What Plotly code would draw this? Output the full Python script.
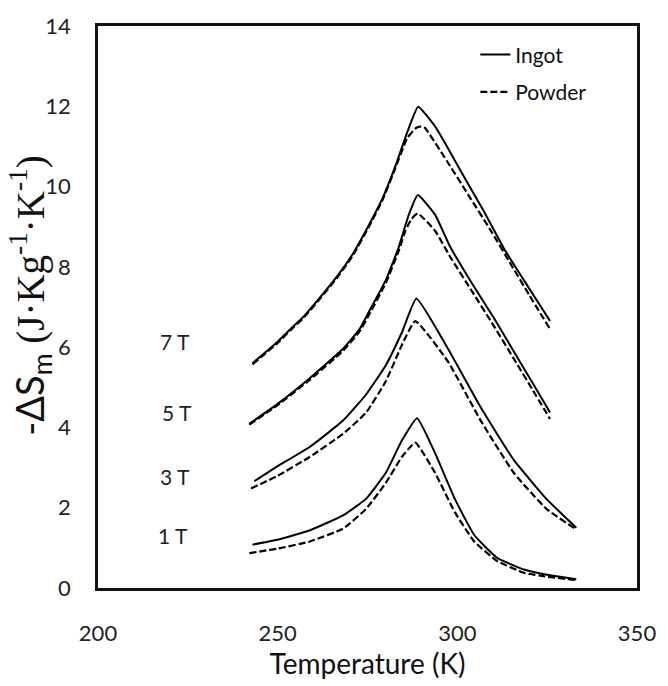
import plotly.graph_objects as go

# ---- data ----
t7_ingot = [243.0, 249.9, 254.0, 257.2, 261.8, 266.4, 270.9, 275.5, 279.2, 282.8, 286.0, 289.1, 293.8, 297.0, 301.5, 307.3, 313.0, 319.0, 325.8]
s7_ingot = [5.60, 6.13, 6.49, 6.76, 7.24, 7.75, 8.32, 9.06, 9.71, 10.52, 11.34, 11.99, 11.50, 11.02, 10.30, 9.40, 8.45, 7.60, 6.65]
t7_powder = [243.0, 249.9, 254.0, 257.2, 261.8, 266.4, 270.9, 275.5, 279.2, 282.8, 286.0, 288.5, 290.0, 291.0, 297.0, 303.0, 309.0, 315.0, 320.0, 325.8]
s7_powder = [5.57, 6.10, 6.46, 6.73, 7.21, 7.71, 8.28, 9.02, 9.67, 10.47, 11.20, 11.46, 11.50, 11.46, 10.65, 9.80, 8.95, 8.05, 7.30, 6.45]

t5_ingot = [242.1, 249.9, 259.0, 268.2, 272.8, 275.5, 280.1, 283.7, 286.5, 289.0, 293.8, 298.0, 304.0, 310.0, 316.0, 321.0, 325.8]
s5_ingot = [4.09, 4.58, 5.23, 5.96, 6.45, 6.90, 7.67, 8.49, 9.30, 9.79, 9.30, 8.50, 7.60, 6.75, 5.85, 5.10, 4.37]
t5_powder = [242.1, 249.9, 259.0, 268.2, 272.8, 275.5, 280.1, 283.7, 285.5, 287.3, 289.0, 293.8, 298.0, 304.0, 310.0, 316.0, 321.0, 325.8]
s5_powder = [4.07, 4.55, 5.19, 5.91, 6.39, 6.82, 7.60, 8.40, 8.89, 9.20, 9.33, 8.90, 8.25, 7.40, 6.55, 5.67, 4.93, 4.21]

t3_ingot = [243.5, 249.9, 259.0, 268.2, 274.6, 280.1, 284.6, 288.6, 297.4, 306.5, 315.7, 324.8, 333.1]
s3_ingot = [2.66, 3.03, 3.52, 4.17, 4.82, 5.55, 6.37, 7.21, 5.96, 4.50, 3.19, 2.22, 1.50]
t3_powder = [242.6, 249.9, 259.0, 268.2, 274.6, 280.1, 284.6, 288.3, 297.4, 306.5, 315.7, 324.8, 333.1]
s3_powder = [2.48, 2.79, 3.27, 3.84, 4.37, 5.15, 6.06, 6.65, 5.64, 4.17, 2.87, 1.97, 1.46]

t1_ingot = [243.0, 249.9, 259.0, 268.2, 274.6, 280.1, 284.6, 288.8, 293.8, 299.3, 304.7, 311.1, 318.5, 325.0, 333.1]
s1_ingot = [1.08, 1.20, 1.44, 1.81, 2.22, 2.87, 3.68, 4.23, 3.36, 2.22, 1.32, 0.75, 0.46, 0.33, 0.22]
t1_powder = [242.1, 249.9, 259.0, 268.2, 274.6, 280.1, 284.6, 288.3, 293.8, 299.3, 304.7, 311.1, 318.5, 325.0, 333.1]
s1_powder = [0.87, 0.98, 1.16, 1.48, 1.97, 2.62, 3.27, 3.62, 2.87, 1.89, 1.16, 0.67, 0.38, 0.28, 0.20]

field_labels = ["7 T", "5 T", "3 T", "1 T"]
field_label_x = [221.4, 222.0, 221.4, 220.8]
field_label_y = [6.13, 4.37, 2.79, 1.30]

x_ticks = [200, 250, 300, 350]
y_ticks = [0, 2, 4, 6, 8, 10, 12, 14]

FONT = "Lato, 'Open Sans', sans-serif"
SERIF = "Liberation Serif, Times New Roman, serif"
fig = go.Figure()

ingot = [(t7_ingot, s7_ingot), (t5_ingot, s5_ingot), (t3_ingot, s3_ingot), (t1_ingot, s1_ingot)]
powder = [(t7_powder, s7_powder), (t5_powder, s5_powder), (t3_powder, s3_powder), (t1_powder, s1_powder)]

for i, (t, s) in enumerate(ingot):
    fig.add_trace(go.Scatter(x=t, y=s, mode="lines", name="Ingot", legendgroup="ingot",
                             showlegend=(i == 0),
                             line=dict(color="black", width=2, shape="spline", smoothing=0.4)))
for i, (t, s) in enumerate(powder):
    fig.add_trace(go.Scatter(x=t, y=s, mode="lines", name="Powder", legendgroup="powder",
                             showlegend=(i == 0),
                             line=dict(color="black", width=2.2, dash="7px,3px", shape="spline", smoothing=0.4)))

for lab, lx, ly in zip(field_labels, field_label_x, field_label_y):
    fig.add_annotation(x=lx, y=ly, text=lab, showarrow=False, xref="x", yref="y",
                       font=dict(family=FONT, size=21, color="#222"))

fig.add_annotation(
    x=-0.126, y=0.52, xref="paper", yref="paper", textangle=-90, showarrow=False,
    xanchor="center", yanchor="middle",
    text=("-ΔS<sub>m</sub> <span style=\"font-family:" + SERIF +
          "; font-size:39px\">(J·Kg<sup>-1</sup>·K<sup>-1</sup>)</span>"),
    font=dict(family=FONT, size=38, color="#111"))

fig.update_layout(
    width=668, height=686,
    margin=dict(l=98, r=23, t=21, b=92),
    paper_bgcolor="white", plot_bgcolor="white",
    font=dict(family=FONT, size=22, color="#222"),
    showlegend=True,
    legend=dict(x=0.70, y=0.985, xanchor="left", yanchor="top", bgcolor="rgba(0,0,0,0)",
                font=dict(family=FONT, size=21, color="#111"), tracegroupgap=7,
                traceorder="grouped"),
    xaxis=dict(range=[200, 350], tickvals=x_ticks, showgrid=False, zeroline=False,
               showline=True, mirror=True, linecolor="#111", linewidth=2.5, ticks="",
               ticklabelstandoff=24,
               title=dict(text="Temperature (K)", font=dict(family=FONT, size=28, color="#111"), standoff=8)),
    yaxis=dict(range=[0, 14], tickvals=y_ticks, showgrid=False, zeroline=False,
               showline=True, mirror=True, linecolor="#111", linewidth=2.5, ticks="",
               ticklabelstandoff=20),
)

fig.write_html("out.html", config={"displayModeBar": False},
               post_script="document.body.style.margin='0';document.body.style.overflow='hidden';")
